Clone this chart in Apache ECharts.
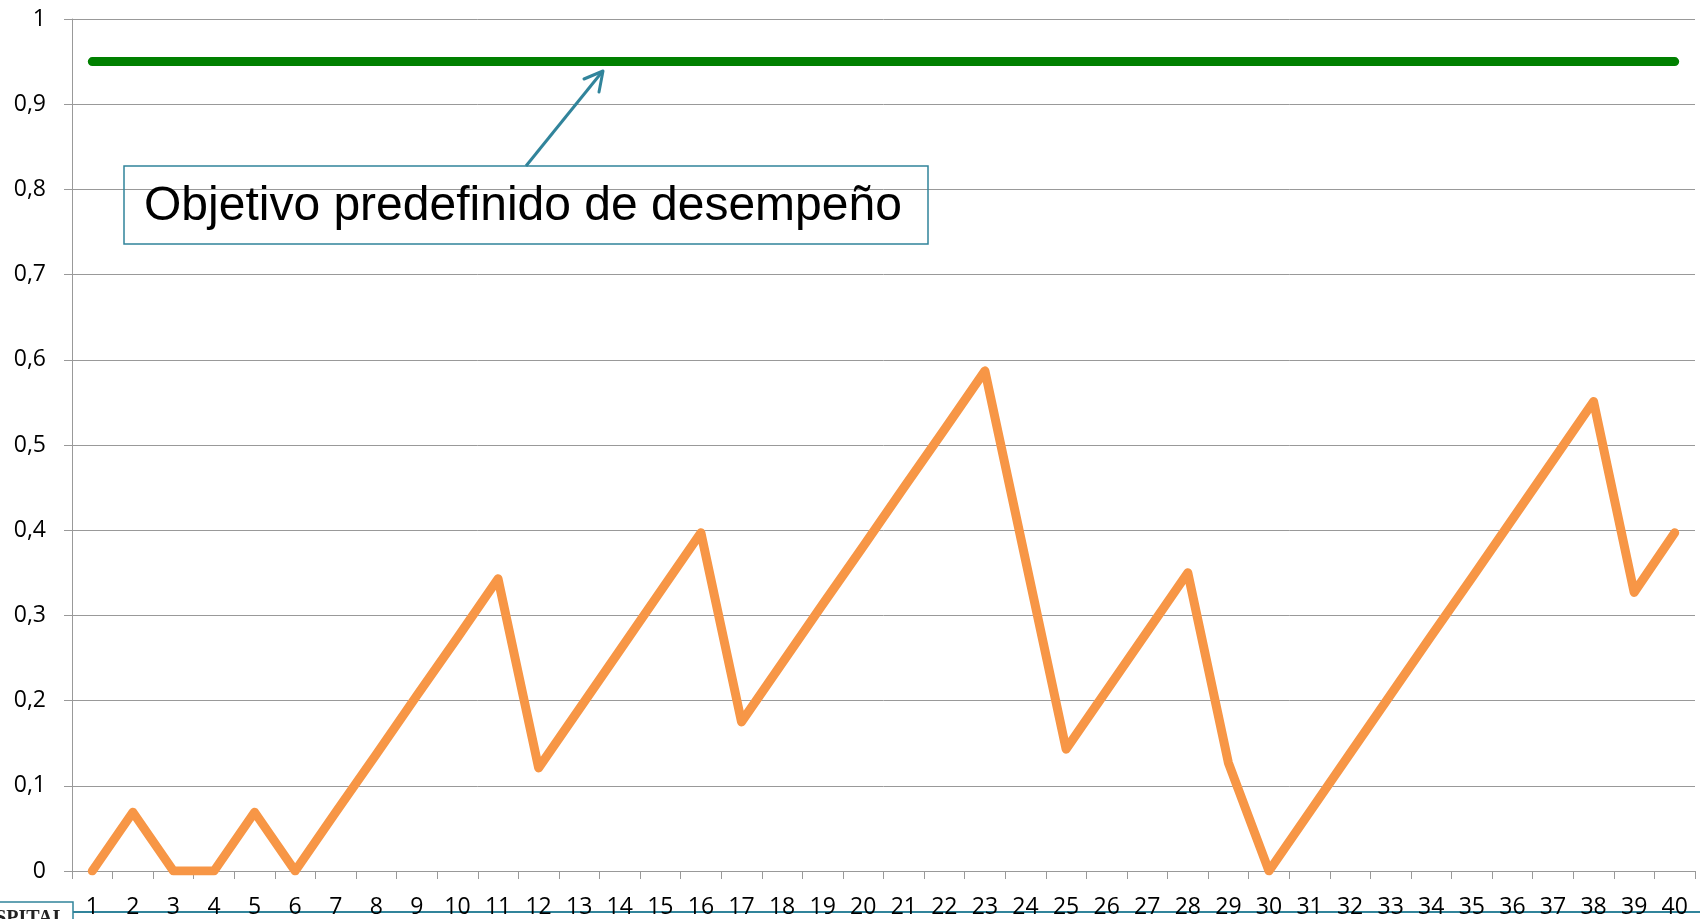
<!DOCTYPE html>
<html>
<head>
    <meta charset="utf-8">
    <title>Objetivo predefinido de desempeño</title>
    <script src="https://cdn.jsdelivr.net/npm/echarts@6/dist/echarts.min.js"></script>
    <style>
        body { margin: 0; background: #fff; }
    </style>
</head>
<body>
    <div id="main" style="width: 1700px;height:919px;"></div>

    <script type="text/javascript">
        // categories 1..40
        var categories = ['1', '2', '3', '4', '5', '6', '7', '8', '9', '10',
            '11', '12', '13', '14', '15', '16', '17', '18', '19', '20',
            '21', '22', '23', '24', '25', '26', '27', '28', '29', '30',
            '31', '32', '33', '34', '35', '36', '37', '38', '39', '40'];

        // measured performance (orange line)
        var desempeno = [0, 0.069, 0, 0, 0.069, 0, 0.069, 0.137, 0.206, 0.274,
            0.343, 0.121, 0.19, 0.259, 0.328, 0.397, 0.175, 0.244, 0.313, 0.381,
            0.45, 0.518, 0.587, 0.365, 0.143, 0.212, 0.281, 0.35, 0.127, 0,
            0.069, 0.138, 0.207, 0.276, 0.344, 0.413, 0.482, 0.551, 0.327, 0.397];

        // target line (green)
        var objetivo = [0.95, 0.95, 0.95, 0.95, 0.95, 0.95, 0.95, 0.95, 0.95, 0.95,
            0.95, 0.95, 0.95, 0.95, 0.95, 0.95, 0.95, 0.95, 0.95, 0.95,
            0.95, 0.95, 0.95, 0.95, 0.95, 0.95, 0.95, 0.95, 0.95, 0.95,
            0.95, 0.95, 0.95, 0.95, 0.95, 0.95, 0.95, 0.95, 0.95, 0.95];

        var annotationText = 'Objetivo predefinido de desempeño';

        var myChart = echarts.init(document.getElementById('main'));

        var teal = '#31849B';
        var labelFont = '"Open Sans", "Noto Sans", sans-serif';

        var option = {
            animation: false,
            backgroundColor: '#fff',
            grid: {
                left: 72,
                right: 5,
                top: 19,
                bottom: 46
            },
            xAxis: {
                type: 'category',
                data: categories,
                boundaryGap: true,
                axisLine: { lineStyle: { color: '#999', width: 1 } },
                axisTick: { show: true, length: 8, lineStyle: { color: '#999' } },
                axisLabel: {
                    color: '#000',
                    fontSize: 23,
                    fontFamily: labelFont,
                    margin: 25,
                    interval: 0
                },
                splitLine: { show: false }
            },
            yAxis: {
                type: 'value',
                min: 0,
                max: 1,
                interval: 0.1,
                axisLine: { show: true, lineStyle: { color: '#999', width: 1 } },
                axisTick: { show: true, length: 8, lineStyle: { color: '#999' } },
                axisLabel: {
                    color: '#000',
                    fontSize: 23,
                    fontFamily: labelFont,
                    margin: 26,
                    formatter: function (v) {
                        if (v === 0 || v === 1) return String(v);
                        return v.toFixed(1).replace('.', ',');
                    }
                },
                splitLine: { lineStyle: { color: '#999', width: 1 } }
            },
            series: [{
                name: 'Objetivo',
                type: 'line',
                data: objetivo,
                symbol: 'none',
                lineStyle: { color: '#008000', width: 9, cap: 'round' },
                z: 3
            }, {
                name: 'Desempeño',
                type: 'line',
                data: desempeno,
                symbol: 'none',
                lineStyle: { color: '#F79646', width: 9, cap: 'round', join: 'round' },
                z: 4
            }],
            graphic: [
                // annotation box
                {
                    type: 'rect',
                    shape: { x: 124, y: 166, width: 804, height: 78 },
                    style: { fill: 'none', stroke: teal, lineWidth: 1.5 },
                    z: 10
                },
                {
                    type: 'text',
                    x: 144,
                    y: 207,
                    style: {
                        text: annotationText,
                        fill: '#000',
                        font: '48px "Liberation Sans", Arial, sans-serif',
                        verticalAlign: 'middle'
                    },
                    z: 10
                },
                // arrow pointing at the target line
                {
                    type: 'line',
                    shape: { x1: 526, y1: 166, x2: 602, y2: 72 },
                    style: { stroke: teal, lineWidth: 3 },
                    z: 10
                },
                {
                    type: 'polyline',
                    shape: { points: [[584, 79], [603, 71], [599, 92]] },
                    style: { stroke: teal, lineWidth: 3, fill: 'none', lineCap: 'round', lineJoin: 'round' },
                    z: 10
                },
                // slide footer decoration
                {
                    type: 'line',
                    shape: { x1: 73, y1: 912, x2: 1700, y2: 912 },
                    style: { stroke: teal, lineWidth: 2 },
                    z: -1
                },
                {
                    type: 'rect',
                    shape: { x: -2, y: 902, width: 75, height: 30 },
                    style: { fill: '#fff', stroke: teal, lineWidth: 1.5 },
                    z: 10
                },
                {
                    type: 'text',
                    x: 66,
                    y: 909,
                    style: {
                        text: 'HOSPITAL',
                        fill: '#222',
                        font: 'bold 20px "Liberation Serif", "DejaVu Serif", serif',
                        align: 'right',
                        verticalAlign: 'top'
                    },
                    z: 11
                }
            ]
        };

        myChart.setOption(option);
    </script>
</body>
</html>
